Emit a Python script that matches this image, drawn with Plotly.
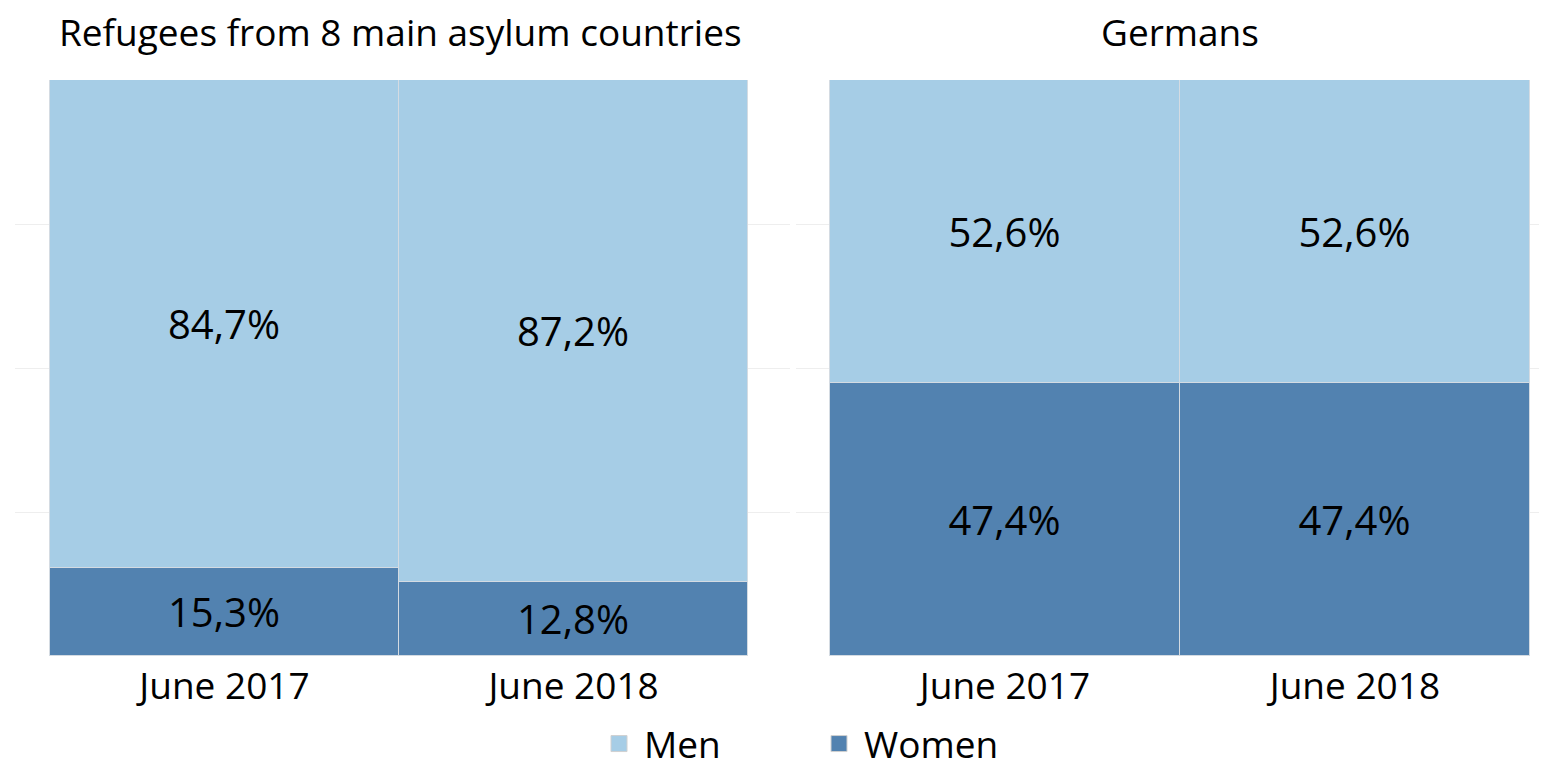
import plotly.graph_objects as go

categories = ["June 2017", "June 2018"]
refugees_men = [84.7, 87.2]
refugees_women = [15.3, 12.8]
germans_men = [52.6, 52.6]
germans_women = [47.4, 47.4]
titles = ["Refugees from 8 main asylum countries", "Germans"]
series_names = ["Men", "Women"]

MEN_C = "#a6cde6"
WOMEN_C = "#5282b0"
FONT = "Open Sans"
FS = 37
FS_BAR = 40

# page body has an 8px margin; work in figure pixels = page pixels - 8
W, H = 1539, 754
OFF = 8

fig = go.Figure()

def add(vals, name, color, xa, ya):
    fig.add_trace(go.Bar(
        x=categories, y=vals, name=name, marker=dict(color=color, line=dict(color="#d4dbe2", width=1)),
        xaxis=xa, yaxis=ya, showlegend=False, legendgroup=name,
        texttemplate="%{y:.1f}%", textposition="inside", insidetextanchor="middle",
        textfont=dict(color="black", size=FS_BAR, family=FONT), constraintext="none",
        hoverinfo="skip"))

add(refugees_women, "Women", WOMEN_C, "x", "y")
add(refugees_men, "Men", MEN_C, "x", "y")
add(germans_women, "Women", WOMEN_C, "x2", "y2")
add(germans_men, "Men", MEN_C, "x2", "y2")

# legend-only entries with larger square symbols
for rank, (nm, col) in enumerate(zip(series_names, [MEN_C, WOMEN_C]), start=1):
    fig.add_trace(go.Scatter(
        x=[None], y=[None], mode="markers", name=nm, legendgroup=nm, legendrank=rank,
        marker=dict(symbol="square", size=24, color=col, line=dict(color="#d0d0d0", width=1)),
        xaxis="x", yaxis="y", hoverinfo="skip"))

ax_common = dict(showgrid=False, zeroline=False, showline=False, ticks="", automargin=False,
                 ticklabelstandoff=5,
                 tickfont=dict(size=FS, color="black", family=FONT))
ay_common = dict(range=[0, 100], dtick=25, showgrid=True, gridcolor="#eeeeee", gridwidth=1,
                 zeroline=False, showticklabels=False, showline=False, ticks="", automargin=False)

top = 80 - OFF
bottom = 656 - OFF
plot_h = bottom - top

fig.update_layout(
    width=W, height=H,
    margin=dict(l=0, r=0, t=top, b=H - bottom, autoexpand=False),
    paper_bgcolor="white", plot_bgcolor="white",
    barmode="stack", bargap=0,
    separators=",.",
    font=dict(family=FONT, size=FS, color="black"),
    xaxis=dict(domain=[(15 - OFF) / W, (790 - OFF) / W], range=[-0.6, 1.62], anchor="y", **ax_common),
    xaxis2=dict(domain=[(796 - OFF) / W, 1.0], range=[-0.597, 1.549], anchor="y2", **ax_common),
    yaxis=dict(anchor="x", **ay_common),
    yaxis2=dict(anchor="x2", **ay_common),
    legend=dict(orientation="h", xref="container", yref="container",
                x=(594 - OFF) / W, xanchor="left", y=1 - (744 - OFF) / H, yanchor="middle",
                font=dict(size=FS, family=FONT), entrywidth=165, entrywidthmode="pixels",
                traceorder="normal", itemwidth=40),
    annotations=[
        dict(text=titles[0], x=(400 - OFF) / W, y=1 + (top - (31 - OFF)) / plot_h,
             xref="paper", yref="paper", showarrow=False,
             xanchor="center", yanchor="middle", font=dict(size=FS, family=FONT)),
        dict(text=titles[1], x=(1180 - OFF) / W, y=1 + (top - (31 - OFF)) / plot_h,
             xref="paper", yref="paper", showarrow=False,
             xanchor="center", yanchor="middle", font=dict(size=FS, family=FONT)),
    ],
)

fig.write_html("out.html")
